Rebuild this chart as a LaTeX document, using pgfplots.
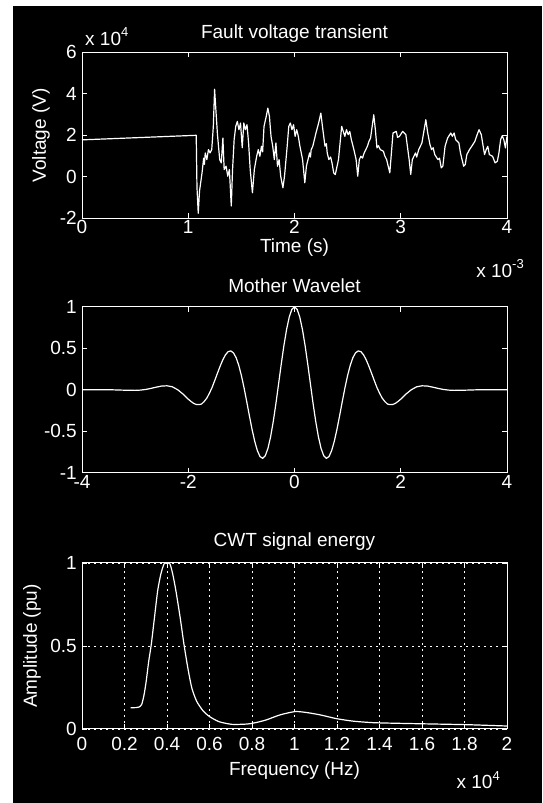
\documentclass[border=0pt]{standalone}
\usepackage{pgfplots}
\pgfplotsset{compat=1.18}
\usepackage{fontspec}
\setmainfont{Liberation Sans}

\pgfplotstableread{
t v
0.000 1.78
1.075 2.00
1.082 -0.50
1.094 -1.76
1.106 -0.69
1.130 0.20
1.145 0.90
1.152 0.60
1.160 1.15
1.175 0.83
1.190 1.31
1.205 1.15
1.221 1.31
1.236 2.43
1.248 4.22
1.260 3.23
1.275 2.03
1.296 0.83
1.311 0.67
1.326 1.87
1.338 0.35
1.356 0.51
1.372 0.03
1.387 0.35
1.405 -1.41
1.417 0.35
1.432 1.79
1.447 2.43
1.462 2.67
1.477 2.27
1.492 2.59
1.508 1.40
1.523 2.59
1.538 2.27
1.553 2.51
1.568 1.63
1.583 0.35
1.604 -0.77
1.622 0.35
1.644 0.99
1.659 1.31
1.674 0.99
1.689 1.47
1.700 1.20
1.713 2.43
1.734 2.91
1.749 3.31
1.764 2.91
1.779 1.95
1.795 1.47
1.810 0.83
1.825 1.63
1.840 0.51
1.855 0.83
1.870 0.03
1.891 -0.53
1.906 0.03
1.931 1.47
1.946 2.43
1.961 2.59
1.976 2.27
1.991 2.51
2.006 1.95
2.021 2.27
2.036 1.95
2.051 1.47
2.076 0.83
2.097 -0.29
2.112 0.51
2.127 0.83
2.142 1.15
2.150 0.95
2.157 1.31
2.172 1.47
2.187 1.79
2.202 2.11
2.227 2.59
2.248 3.07
2.263 2.43
2.287 1.47
2.300 1.60
2.308 1.15
2.323 0.83
2.340 0.95
2.353 0.67
2.369 0.19
2.384 0.11
2.414 0.83
2.429 1.63
2.444 2.43
2.459 2.19
2.474 1.95
2.489 2.27
2.505 2.03
2.520 2.19
2.535 1.79
2.559 1.31
2.580 0.83
2.595 0.03
2.610 0.83
2.625 0.99
2.640 0.90
2.656 1.15
2.686 1.47
2.701 1.71
2.716 1.87
2.731 2.43
2.746 2.99
2.761 2.27
2.776 1.39
2.790 1.50
2.807 1.31
2.837 1.23
2.850 1.00
2.867 0.83
2.897 0.19
2.927 2.11
2.958 2.19
2.970 1.90
2.988 1.95
3.018 2.19
3.048 2.03
3.079 0.83
3.094 0.11
3.109 0.83
3.139 1.15
3.150 0.95
3.169 1.31
3.199 1.63
3.215 2.11
3.236 2.75
3.254 2.11
3.275 1.55
3.290 1.31
3.305 1.40
3.320 1.07
3.350 0.83
3.365 0.90
3.381 0.43
3.396 0.51
3.417 1.47
3.441 1.87
3.471 2.11
3.486 1.95
3.502 2.11
3.517 1.79
3.547 1.63
3.562 1.15
3.577 0.83
3.592 0.51
3.607 0.59
3.622 1.07
3.647 1.31
3.668 1.47
3.698 1.71
3.719 2.03
3.737 2.27
3.758 2.03
3.773 1.55
3.789 1.07
3.804 1.31
3.819 1.47
3.834 1.07
3.864 0.99
3.888 0.67
3.909 0.75
3.924 1.15
3.940 1.79
3.955 1.98
3.970 1.79
3.985 1.39
4.000 1.95
}\signal

\pgfplotstableread{
x y
-4.00 0
-3.50 0
-3.20 -0.006
-3.00 -0.008
-2.90 -0.005
-2.80 0.003
-2.70 0.016
-2.60 0.031
-2.50 0.044
-2.40 0.047
-2.30 0.035
-2.20 0.000
-2.10 -0.052
-2.00 -0.114
-1.95 -0.141
-1.90 -0.164
-1.85 -0.178
-1.80 -0.180
-1.75 -0.173
-1.70 -0.142
-1.65 -0.101
-1.60 -0.040
-1.55 0.029
-1.50 0.113
-1.45 0.199
-1.40 0.283
-1.35 0.359
-1.30 0.420
-1.25 0.458
-1.20 0.467
-1.15 0.445
-1.10 0.387
-1.05 0.295
-1.00 0.172
-0.95 0.024
-0.90 -0.141
-0.85 -0.311
-0.80 -0.475
-0.75 -0.619
-0.70 -0.733
-0.65 -0.805
-0.60 -0.827
-0.55 -0.795
-0.50 -0.707
-0.45 -0.568
-0.40 -0.384
-0.35 -0.168
-0.30 0.068
-0.25 0.306
-0.20 0.530
-0.15 0.723
-0.10 0.873
-0.05 0.968
0.00 1.000
0.05 0.968
0.10 0.873
0.15 0.723
0.20 0.530
0.25 0.306
0.30 0.068
0.35 -0.168
0.40 -0.384
0.45 -0.568
0.50 -0.707
0.55 -0.795
0.60 -0.827
0.65 -0.805
0.70 -0.733
0.75 -0.619
0.80 -0.475
0.85 -0.311
0.90 -0.141
0.95 0.024
1.00 0.172
1.05 0.295
1.10 0.387
1.15 0.445
1.20 0.467
1.25 0.458
1.30 0.420
1.35 0.359
1.40 0.283
1.45 0.199
1.50 0.113
1.55 0.029
1.60 -0.040
1.65 -0.101
1.70 -0.142
1.75 -0.173
1.80 -0.180
1.85 -0.178
1.90 -0.164
1.95 -0.141
2.00 -0.114
2.10 -0.052
2.20 0.000
2.30 0.035
2.40 0.047
2.50 0.044
2.60 0.031
2.70 0.016
2.80 0.003
2.90 -0.005
3.00 -0.008
3.20 -0.006
3.50 0
4.00 0
}\wavelet

\pgfplotstableread{
f a
0.229 0.128
0.255 0.129
0.268 0.132
0.281 0.148
0.292 0.206
0.302 0.287
0.314 0.408
0.326 0.509
0.341 0.671
0.356 0.832
0.371 0.933
0.386 0.994
0.400 1.000
0.414 0.994
0.427 0.933
0.442 0.832
0.462 0.671
0.480 0.509
0.498 0.368
0.517 0.246
0.540 0.166
0.570 0.109
0.600 0.075
0.645 0.044
0.705 0.028
0.765 0.029
0.791 0.032
0.830 0.042
0.870 0.056
0.932 0.085
1.003 0.105
1.058 0.099
1.121 0.085
1.199 0.062
1.278 0.047
1.372 0.038
1.498 0.034
1.655 0.030
1.812 0.026
2.000 0.018
}\cwt

\begin{document}
\begin{tikzpicture}[x=1pt,y=1pt]
\useasboundingbox (0,0) rectangle (542,803);
\fill[white] (0,0) rectangle (542,803);
\fill[black] (13,0) rectangle (542,797);
\pgfplotsset{
  every axis/.append style={
    scale only axis, width=425pt, height=166pt,
    anchor=south west,
    axis line style={white, line width=1pt},
    tick style={white, line width=0.8pt},
    tick align=inside, tick pos=both,
    major tick length=5pt,
    ticklabel style={white, font=\fontsize{19}{21}\selectfont, inner sep=0pt},
    yticklabel style={anchor=east, xshift=-5pt},
    label style={white, font=\fontsize{19}{21}\selectfont},
    title style={white, font=\fontsize{19}{21}\selectfont, at={(axis description cs:0.5,1)}, anchor=base, yshift=8pt},
    xlabel style={at={(axis description cs:0.5,0)}, anchor=base, yshift=-34pt},
    ylabel style={anchor=base, rotate=0},
    /pgf/number format/assume math mode=true,
    clip=false,
  }
}
% Axis 1
\begin{axis}[name=ax1, at={(82pt,584.7pt)},
  xmin=0, xmax=4, ymin=-2, ymax=6,
  xtick={0,1,2,3,4}, xticklabels={0,1,2,3,4},
  ytick={-2,0,2,4,6}, yticklabels={-2,0,2,4,6},
  xticklabel style={anchor=base, yshift=-15pt},
  title={Fault voltage transient},
  xlabel={Time (s)},
  ylabel={Voltage (V)},
  ylabel style={at={(axis description cs:-0.085,0.5)}},
]
\addplot[white, line width=1.2pt, line join=round] table[x=t,y=v] {\signal};
\end{axis}
\node[anchor=base west, white, font=\fontsize{19}{21}\selectfont, inner sep=0pt] at ([xshift=3pt,yshift=7pt]ax1.north west) {x 10\raisebox{9pt}{\fontsize{13}{13}\selectfont 4}};
\node[anchor=base east, white, font=\fontsize{19}{21}\selectfont, inner sep=0pt] at ([xshift=17pt,yshift=-59pt]ax1.south east) {x 10\raisebox{9pt}{\fontsize{13}{13}\selectfont -3}};

% Axis 2
\begin{axis}[name=ax2, at={(82pt,330.3pt)},
  xmin=-4, xmax=4, ymin=-1, ymax=1,
  xtick={-4,-2,0,2,4}, xticklabels={-4,-2,0,2,4},
  ytick={-1,-0.5,0,0.5,1}, yticklabels={-1,-0.5,0,0.5,1},
  xticklabel style={anchor=base, yshift=-16pt},
  title={Mother Wavelet},
]
\addplot[white, line width=1.2pt, line join=round] table[x=x,y=y] {\wavelet};
\end{axis}

% Axis 3
\begin{axis}[name=ax3, at={(82pt,74pt)},
  xmin=0, xmax=2, ymin=0, ymax=1,
  xtick={0,0.2,0.4,0.6,0.8,1,1.2,1.4,1.6,1.8,2},
  xticklabels={0,0.2,0.4,0.6,0.8,1,1.2,1.4,1.6,1.8,2},
  ytick={0,0.5,1}, yticklabels={0,0.5,1},
  xticklabel style={anchor=base, yshift=-22pt},
  xmajorgrids, ymajorgrids,
  grid style={white, line width=0.8pt, dash pattern=on 1.5pt off 4.5pt},
  title={CWT signal energy},
  title style={yshift=2pt},
  xlabel={Frequency (Hz)},
  xlabel style={yshift=-12pt},
  ylabel={Amplitude (pu)},
  ylabel style={at={(axis description cs:-0.106,0.5)}},
]
\addplot[white, line width=1.2pt, line join=round, smooth, tension=0.4] table[x=f,y=a] {\cwt};
\end{axis}
\node[anchor=base east, white, font=\fontsize{19}{21}\selectfont, inner sep=0pt] at ([xshift=-7pt,yshift=-60pt]ax3.south east) {x 10\raisebox{9pt}{\fontsize{13}{13}\selectfont 4}};
\end{tikzpicture}
\end{document}
